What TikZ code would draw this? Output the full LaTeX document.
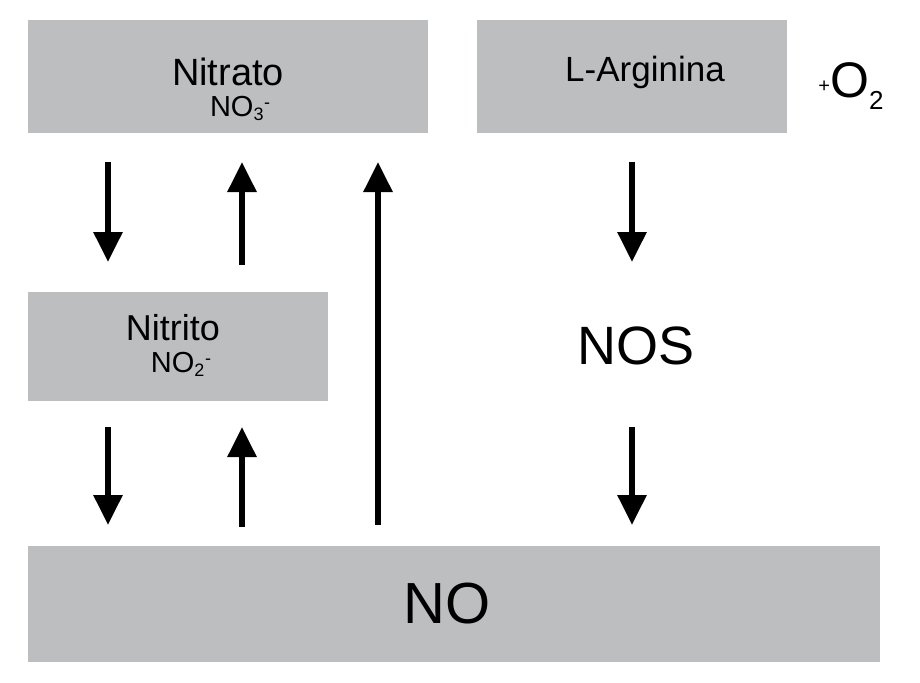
\documentclass[tikz,border=0pt]{standalone}
\usepackage{fontspec}
\setmainfont{Liberation Sans}
\usetikzlibrary{arrows.meta}
\definecolor{boxgray}{HTML}{BCBEC0}
\begin{document}
\begin{tikzpicture}[x=1pt,y=-1pt,
  gbox/.style={fill=boxgray,draw=none,inner sep=0pt},
  arr/.style={line width=6pt,-{Triangle[width=28pt,length=30pt]}}]
\useasboundingbox (0,0) rectangle (920,682);
\fill[boxgray] (28,20) rectangle (428,133);
\fill[boxgray] (477,20) rectangle (787,133);
\fill[boxgray] (28,292) rectangle (328,401);
\fill[boxgray] (28,546) rectangle (880,662);
\node (nitrato) at (228,72) {\fontsize{38}{42}\selectfont Nitrato};
\node (no3) at (240,108) {\fontsize{29}{30}\selectfont NO$_{\mbox{\fontsize{18}{18}\selectfont 3}}$\raisebox{8pt}{\fontsize{18}{18}\selectfont -}};
\node (arg) at (645,72) {\fontsize{35}{40}\selectfont L-Arginina};
\node (o2) at (851,86) {\raisebox{5pt}{\fontsize{20}{20}\selectfont +}\fontsize{50}{54}\selectfont O\raisebox{-12pt}{\fontsize{26}{26}\selectfont 2}};
\node (nitrito) at (173,328) {\fontsize{36}{40}\selectfont Nitrito};
\node (no2) at (181,364) {\fontsize{29}{30}\selectfont NO$_{\mbox{\fontsize{18}{18}\selectfont 2}}$\raisebox{8pt}{\fontsize{18}{18}\selectfont -}};
\node (nos) at (636,346) {\fontsize{54}{58}\selectfont NOS};
\node (no) at (447,604) {\fontsize{58}{62}\selectfont NO};
\coordinate (a1s) at (108,162); \coordinate (a1e) at (108,262);
\coordinate (a2s) at (242,265); \coordinate (a2e) at (242,162);
\coordinate (a3s) at (378,525); \coordinate (a3e) at (378,162);
\coordinate (a4s) at (632,162); \coordinate (a4e) at (632,262);
\coordinate (a5s) at (108,427); \coordinate (a5e) at (108,525);
\coordinate (a6s) at (242,527); \coordinate (a6e) at (242,427);
\coordinate (a7s) at (632,427); \coordinate (a7e) at (632,525);
\foreach \i in {1,...,7} \draw[arr] (a\i s) -- (a\i e);
\end{tikzpicture}
\end{document}
